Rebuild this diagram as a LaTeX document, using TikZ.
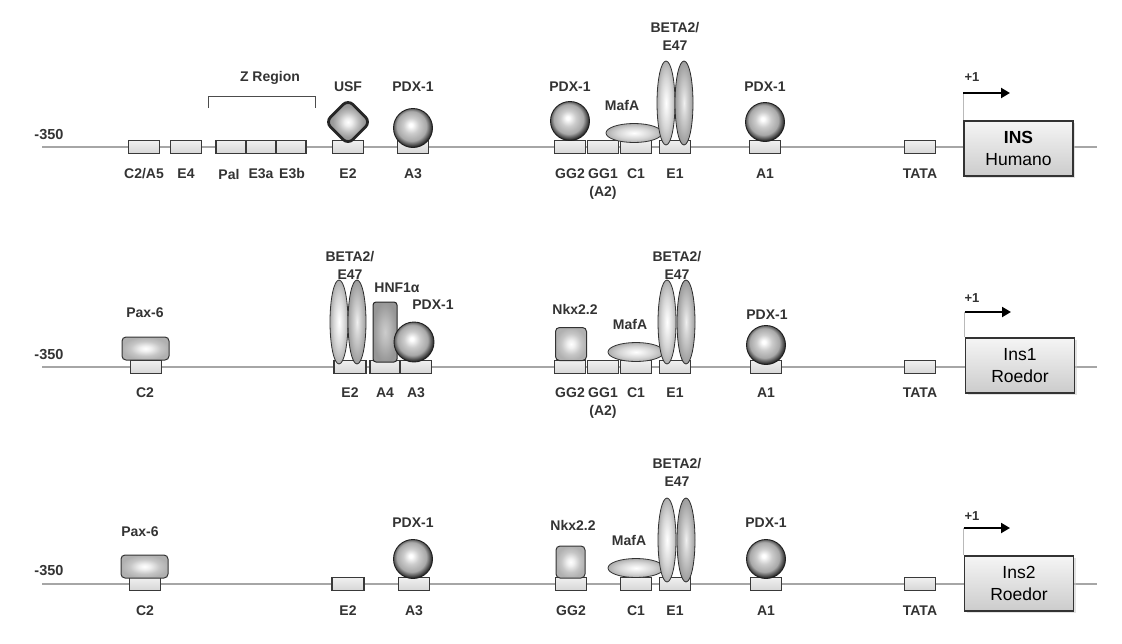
\documentclass[tikz,border=0pt]{standalone}
\usepackage{fontspec}
\setmainfont{Liberation Sans}
\usetikzlibrary{shapes.geometric,arrows.meta,shadows}
\pgfdeclareradialshading{spheresh}{\pgfpoint{-3bp}{4bp}}{color(0bp)=(white); color(2bp)=(white); color(10bp)=(gray!40); color(19bp)=(gray!68); color(26bp)=(gray!30!black); color(50bp)=(gray!30!black)}
\pgfdeclareradialshading{ovalsh}{\pgfpoint{0bp}{0bp}}{color(0bp)=(white); color(6bp)=(gray!12); color(15bp)=(gray!32); color(21bp)=(gray!50); color(25bp)=(gray!65); color(50bp)=(gray!65)}
\pgfdeclareradialshading{ovaldsh}{\pgfpoint{0bp}{0bp}}{color(0bp)=(gray!12); color(7bp)=(gray!32); color(15bp)=(gray!52); color(21bp)=(gray!68); color(25bp)=(gray!78); color(50bp)=(gray!78)}
\pgfdeclareradialshading{diash}{\pgfpoint{0bp}{0bp}}{color(0bp)=(white); color(4bp)=(gray!12); color(11bp)=(gray!50); color(17bp)=(gray!78); color(25bp)=(gray!90); color(50bp)=(gray!90)}
\pgfdeclareradialshading{rboxsh}{\pgfpoint{0bp}{0bp}}{color(0bp)=(white); color(6bp)=(gray!12); color(16bp)=(gray!45); color(25bp)=(gray!62); color(50bp)=(gray!62)}
\pgfdeclareradialshading{hnfsh}{\pgfpoint{0bp}{0bp}}{color(0bp)=(gray!40); color(10bp)=(gray!55); color(19bp)=(gray!72); color(25bp)=(gray!82); color(50bp)=(gray!82)}
\begin{document}
\begin{tikzpicture}[x=1pt,y=-1pt,
  dna/.style={draw=gray!70, line width=1.3pt},
  elem/.style={rectangle, draw=gray!45!black, top color=gray!12, bottom color=gray!32, line width=1.1pt, minimum width=31pt, minimum height=13pt, inner sep=0pt},
  lbl/.style={font=\fontsize{14}{16}\selectfont\bfseries, text=black!80, inner sep=0pt},
  flbl/.style={font=\fontsize{14}{18}\selectfont\bfseries, text=black!80, inner sep=0pt, align=center},
  ballf/.style={circle, minimum size=39pt, inner sep=0pt, shading=spheresh, draw=gray!25!black, line width=0.9pt},
  oval/.style={ellipse, inner sep=0pt, draw=gray!40!black, line width=0.8pt, shading=ovalsh},
  ovaldark/.style={ellipse, inner sep=0pt, draw=gray!35!black, line width=0.8pt, shading=ovaldsh},
  tall/.style={minimum width=18pt, minimum height=84pt},
  flat/.style={minimum width=56pt, minimum height=19pt},
  rbox/.style={rectangle, rounded corners=4pt, inner sep=0pt, draw=gray!40!black, line width=1pt, shading=rboxsh},
  hnf/.style={rectangle, rounded corners=3pt, inner sep=0pt, draw=gray!30!black, line width=1pt, shading=hnfsh, minimum width=24pt, minimum height=60pt},
  dia/.style={diamond, minimum width=46pt, minimum height=46pt, inner sep=0pt, rounded corners=7pt, draw=black!85, line width=2.8pt, shading=diash},
  insbox/.style={rectangle, draw=black!80, line width=1.3pt, top color=gray!8, bottom color=gray!40, minimum width=109pt, minimum height=55pt, align=center, inner sep=0pt, font=\fontsize{17.5}{22}\selectfont, drop shadow={shadow xshift=2pt, shadow yshift=-2pt, fill=gray!45}},
  tssv/.style={draw=gray!55, line width=1pt},
  tssh/.style={draw=black, line width=2pt, -{Triangle[length=9pt, width=10pt]}},
  numl/.style={font=\fontsize{14.5}{16}\selectfont\bfseries, text=black!80, inner sep=0pt},
  plus/.style={font=\fontsize{13}{15}\selectfont\bfseries, text=black!80, inner sep=0pt},
  bracket/.style={draw=black!70, line width=1pt}
]
\useasboundingbox (0,0) rectangle (1122,643);

%% ================= ROW 1 =================
\coordinate (r1s) at (42,147);
\coordinate (r1e) at (1097,147);
\draw[dna] (r1s) -- (r1e);
\node[numl] (r1num) at (49,135) {-350};

\node[elem] (r1C2A5) at (144,147) {};
\node[elem] (r1E4) at (186,147) {};
\node[elem, minimum width=30pt] (r1Pal) at (231,147) {};
\node[elem, minimum width=30pt] (r1E3a) at (261,147) {};
\node[elem, minimum width=30pt] (r1E3b) at (291,147) {};
\node[elem] (r1E2) at (348,147) {};
\node[elem] (r1A3) at (413,147) {};
\node[elem] (r1GG2) at (570,147) {};
\node[elem] (r1GG1) at (603,147) {};
\node[elem] (r1C1) at (636,147) {};
\node[elem] (r1E1) at (675,147) {};
\node[elem] (r1A1) at (765,147) {};
\node[elem] (r1TATA) at (920,147) {};

\node[lbl] (l1C2A5) at (144,174) {C2/A5};
\node[lbl] (l1E4) at (186,174) {E4};
\node[lbl] (l1Pal) at (229,174) {Pal};
\node[lbl] (l1E3a) at (261,174) {E3a};
\node[lbl] (l1E3b) at (292,174) {E3b};
\node[lbl] (l1E2) at (348,174) {E2};
\node[lbl] (l1A3) at (413,174) {A3};
\node[lbl] (l1GG2) at (570,174) {GG2};
\node[lbl] (l1GG1) at (603,174) {GG1};
\node[lbl] (l1A2) at (603,193) {(A2)};
\node[lbl] (l1C1) at (636,174) {C1};
\node[lbl] (l1E1) at (675,174) {E1};
\node[lbl] (l1A1) at (765,174) {A1};
\node[lbl] (l1TATA) at (920,174) {TATA};

\coordinate (z1) at (208,108);
\coordinate (z2) at (315,108);
\draw[bracket] (z1) -- ++(0,-12) -| (z2);
\node[flbl] (zr) at (270,78) {Z Region};

\node[dia] (r1USF) at (348,122) {};
\node[flbl] (f1USF) at (348,87) {USF};
\node[ballf] (r1P3) at (413,128) {};
\node[flbl] (f1P3) at (413,87) {PDX-1};
\node[ballf] (r1PGG) at (570,121) {};
\node[flbl] (f1PGG) at (570,87) {PDX-1};
\node[oval, flat] (r1Maf) at (634,133) {};
\node[flbl] (f1Maf) at (622,105) {MafA};
\node[oval, tall] (r1B1) at (666,103) {};
\node[ovaldark, tall] (r1B2) at (684,103) {};
\node[flbl] (f1B) at (675,36) {BETA2/\\E47};
\node[ballf] (r1P1) at (765,122) {};
\node[flbl] (f1P1) at (765,87) {PDX-1};

\node[insbox] (r1INS) at (1018.5,148.5) {\textbf{INS}\\Humano};
\coordinate (r1tip) at (1010,93);
\draw[tssv] (r1INS.north west) -- (r1INS.north west |- r1tip);
\draw[tssh] (r1INS.north west |- r1tip) -- (r1tip);
\node[plus] (p1) at (972,77) {+1};

%% ================= ROW 2 =================
\coordinate (r2s) at (42,367);
\coordinate (r2e) at (1097,367);
\draw[dna] (r2s) -- (r2e);
\node[numl] (r2num) at (49,355) {-350};

\node[elem] (r2C2) at (146,367) {};
\node[elem, minimum width=32pt] (r2E2) at (350,367) {};
\node[elem, minimum width=30pt] (r2A4) at (385,367) {};
\node[elem] (r2A3) at (416,367) {};
\node[elem] (r2GG2) at (570,367) {};
\node[elem] (r2GG1) at (603,367) {};
\node[elem] (r2C1) at (636,367) {};
\node[elem] (r2E1) at (675,367) {};
\node[elem] (r2A1) at (766,367) {};
\node[elem] (r2TATA) at (920,367) {};

\node[lbl] (l2C2) at (145,393) {C2};
\node[lbl] (l2E2) at (350,393) {E2};
\node[lbl] (l2A4) at (385,393) {A4};
\node[lbl] (l2A3) at (416,393) {A3};
\node[lbl] (l2GG2) at (570,393) {GG2};
\node[lbl] (l2GG1) at (603,393) {GG1};
\node[lbl] (l2A2) at (603,412) {(A2)};
\node[lbl] (l2C1) at (636,393) {C1};
\node[lbl] (l2E1) at (675,393) {E1};
\node[lbl] (l2A1) at (766,393) {A1};
\node[lbl] (l2TATA) at (920,393) {TATA};

\node[rbox, minimum width=47pt, minimum height=23pt] (r2Pax) at (145.5,348.5) {};
\node[flbl] (f2Pax) at (145,313) {Pax-6};
\node[oval, tall] (r2B1) at (339,322) {};
\node[ovaldark, tall] (r2B2) at (357,322) {};
\node[flbl] (f2B) at (350,265) {BETA2/\\E47};
\node[hnf] (r2HNF) at (385,332) {};
\node[flbl] (f2HNF) at (397,288) {HNF1α};
\node[ballf, minimum size=40pt] (r2P3) at (414,342) {};
\node[flbl] (f2P3) at (433,305) {PDX-1};
\node[rbox, minimum width=31pt, minimum height=33pt] (r2Nkx) at (571,344) {};
\node[flbl] (f2Nkx) at (575,309) {Nkx2.2};
\node[oval, flat] (r2Maf) at (636,352) {};
\node[flbl] (f2Maf) at (630,324) {MafA};
\node[oval, tall] (r2B3) at (667,322) {};
\node[ovaldark, tall] (r2B4) at (686,322) {};
\node[flbl] (f2B2) at (677,265) {BETA2/\\E47};
\node[ballf] (r2P1) at (766,345) {};
\node[flbl] (f2P1) at (767,315) {PDX-1};

\node[insbox] (r2INS) at (1020,365.5) {Ins1\\Roedor};
\coordinate (r2tip) at (1011,312);
\draw[tssv] (r2INS.north west) -- (r2INS.north west |- r2tip);
\draw[tssh] (r2INS.north west |- r2tip) -- (r2tip);
\node[plus] (p2) at (972,298) {+1};

%% ================= ROW 3 =================
\coordinate (r3s) at (42,584);
\coordinate (r3e) at (1097,584);
\draw[dna] (r3s) -- (r3e);
\node[numl] (r3num) at (49,571) {-350};

\node[elem] (r3C2) at (145,584) {};
\node[elem, minimum width=32pt] (r3E2) at (348,584) {};
\node[elem] (r3A3) at (414,584) {};
\node[elem] (r3GG2) at (571,584) {};
\node[elem] (r3C1) at (636,584) {};
\node[elem] (r3E1) at (675,584) {};
\node[elem] (r3A1) at (766,584) {};
\node[elem] (r3TATA) at (920,584) {};

\node[lbl] (l3C2) at (145,611) {C2};
\node[lbl] (l3E2) at (348,611) {E2};
\node[lbl] (l3A3) at (414,611) {A3};
\node[lbl] (l3GG2) at (571,611) {GG2};
\node[lbl] (l3C1) at (636,611) {C1};
\node[lbl] (l3E1) at (675,611) {E1};
\node[lbl] (l3A1) at (766,611) {A1};
\node[lbl] (l3TATA) at (920,611) {TATA};

\node[rbox, minimum width=47pt, minimum height=23pt] (r3Pax) at (144.5,566.5) {};
\node[flbl] (f3Pax) at (140,532) {Pax-6};
\node[ballf] (r3P3) at (413,559) {};
\node[flbl] (f3P3) at (413,523) {PDX-1};
\node[rbox, minimum width=29pt, minimum height=32pt] (r3Nkx) at (570.5,562) {};
\node[flbl] (f3Nkx) at (573,525) {Nkx2.2};
\node[oval, flat] (r3Maf) at (636,568) {};
\node[flbl] (f3Maf) at (629,540) {MafA};
\node[oval, tall] (r3B1) at (667,540) {};
\node[ovaldark, tall] (r3B2) at (686,540) {};
\node[flbl] (f3B) at (677,472) {BETA2/\\E47};
\node[ballf] (r3P1) at (766,559) {};
\node[flbl] (f3P1) at (766,523) {PDX-1};

\node[insbox] (r3INS) at (1019,583.5) {Ins2\\Roedor};
\coordinate (r3tip) at (1010,528);
\draw[tssv] (r3INS.north west) -- (r3INS.north west |- r3tip);
\draw[tssh] (r3INS.north west |- r3tip) -- (r3tip);
\node[plus] (p3) at (972,516) {+1};
\end{tikzpicture}
\end{document}
